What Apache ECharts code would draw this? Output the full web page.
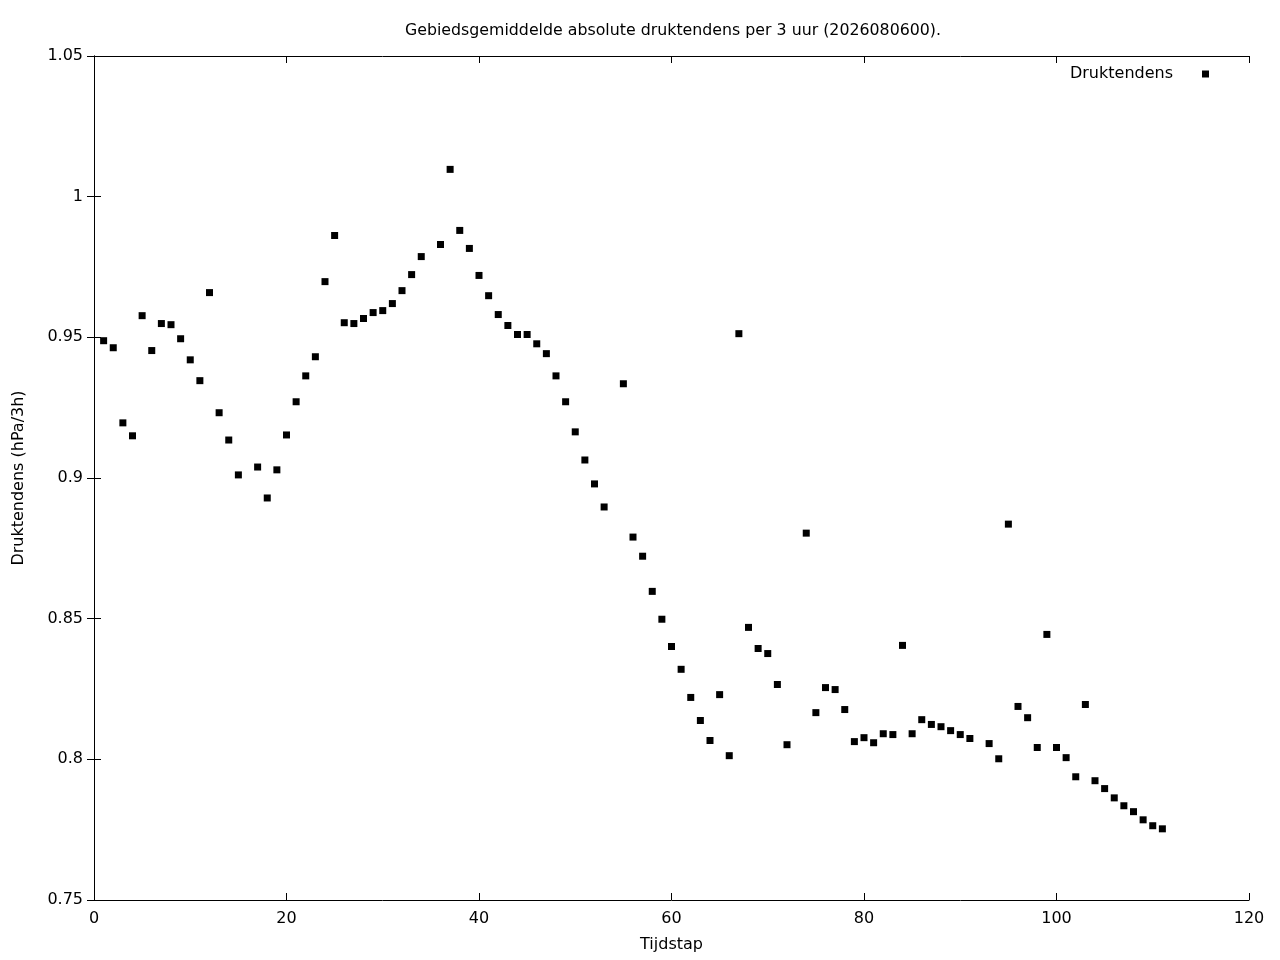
<!DOCTYPE html>
<html>
<head>
<meta charset="utf-8">
<script src="https://cdn.jsdelivr.net/npm/echarts@6/dist/echarts.min.js"></script>
<style>html,body{margin:0;padding:0;background:#fff}#c{width:1280px;height:960px}</style>
</head>
<body>
<div id="c"></div>
<script>
const tijdstap = [1,2,3,4,5,6,7,8,9,10,11,12,13,14,15,17,18,19,20,21,22,23,24,25,26,27,28,29,30,31,32,33,34,36,37,38,39,40,41,42,43,44,45,46,47,48,49,50,51,52,53,55,56,57,58,59,60,61,62,63,64,65,66,67,68,69,70,71,72,74,75,76,77,78,79,80,81,82,83,84,85,86,87,88,89,90,91,93,94,95,96,97,98,99,100,101,102,103,104,105,106,107,108,109,110,111];
const druktendens = [0.9488,0.9463,0.9196,0.9150,0.9577,0.9453,0.9549,0.9545,0.9495,0.9420,0.9346,0.9659,0.9232,0.9135,0.9011,0.9039,0.8929,0.9029,0.9153,0.9271,0.9363,0.9431,0.9698,0.9862,0.9552,0.9549,0.9567,0.9588,0.9595,0.9620,0.9666,0.9723,0.9787,0.9830,1.0097,0.9880,0.9816,0.9720,0.9648,0.9581,0.9542,0.9510,0.9510,0.9477,0.9442,0.9363,0.9271,0.9164,0.9064,0.8979,0.8897,0.9335,0.8790,0.8722,0.8597,0.8498,0.8401,0.8320,0.8220,0.8138,0.8067,0.8230,0.8013,0.9513,0.8469,0.8394,0.8376,0.8266,0.8052,0.8804,0.8166,0.8255,0.8248,0.8177,0.8063,0.8077,0.8059,0.8091,0.8088,0.8405,0.8091,0.8141,0.8124,0.8116,0.8102,0.8088,0.8074,0.8056,0.8002,0.8836,0.8188,0.8148,0.8042,0.8444,0.8042,0.8006,0.7938,0.8195,0.7924,0.7896,0.7863,0.7835,0.7814,0.7785,0.7764,0.7753];
const seriesName = 'Druktendens';
const titleText = 'Gebiedsgemiddelde absolute druktendens per 3 uur (2026080600).';
const xAxisName = 'Tijdstap';
const yAxisName = 'Druktendens (hPa/3h)';

const font = 'DejaVu Sans';
const fs = 16;
const chart = echarts.init(document.getElementById('c'), null, {renderer: 'canvas'});
const lineStyle = {color: '#000', width: 1};
const baseX = {type: 'value', min: 0, max: 120, interval: 20, splitLine: {show: false},
  axisLine: {show: true, lineStyle: lineStyle}, axisTick: {show: true, inside: true, length: 7, lineStyle: lineStyle}};
const baseY = {type: 'value', min: 0.75, max: 1.05, interval: 0.05, splitLine: {show: false},
  axisLine: {show: true, lineStyle: lineStyle}, axisTick: {show: true, inside: true, length: 7, lineStyle: lineStyle}};
const pts = tijdstap.map((t, i) => [t, druktendens[i]]);
chart.setOption({
  animation: false,
  backgroundColor: '#fff',
  textStyle: {fontFamily: font},
  title: {text: titleText, left: 668, textAlign: 'center', top: 18,
    textStyle: {fontFamily: font, fontSize: 15.8, fontWeight: 'normal', color: '#000'}},
  legend: {data: [seriesName], right: 66, top: 61, icon: 'rect', itemWidth: 7, itemHeight: 7, align: 'right',
    itemStyle: {opacity: 1},
    textStyle: {fontFamily: font, fontSize: fs, color: '#000', padding: [0, 24, 0, 0]}},
  grid: {left: 94, right: 31, top: 56, bottom: 60, containLabel: false},
  xAxis: [
    Object.assign({}, baseX, {position: 'bottom', name: xAxisName, nameLocation: 'middle', nameGap: 37,
      nameTextStyle: {fontFamily: font, fontSize: fs, color: '#000'},
      axisLabel: {show: true, margin: 11, fontFamily: font, fontSize: fs, color: '#000'}}),
    Object.assign({}, baseX, {position: 'top', axisLabel: {show: false}})
  ],
  yAxis: [
    Object.assign({}, baseY, {position: 'left', name: yAxisName, nameLocation: 'middle', nameGap: 67,
      nameTextStyle: {fontFamily: font, fontSize: fs, color: '#000'},
      axisLabel: {show: true, margin: 11, fontFamily: font, fontSize: fs, color: '#000'}}),
    Object.assign({}, baseY, {position: 'right', axisLabel: {show: false}})
  ],
  series: [{name: seriesName, type: 'scatter', xAxisIndex: 0, yAxisIndex: 0, symbol: 'rect', symbolSize: 7,
    itemStyle: {color: '#000', opacity: 1}, data: pts}]
});
</script>
</body>
</html>
